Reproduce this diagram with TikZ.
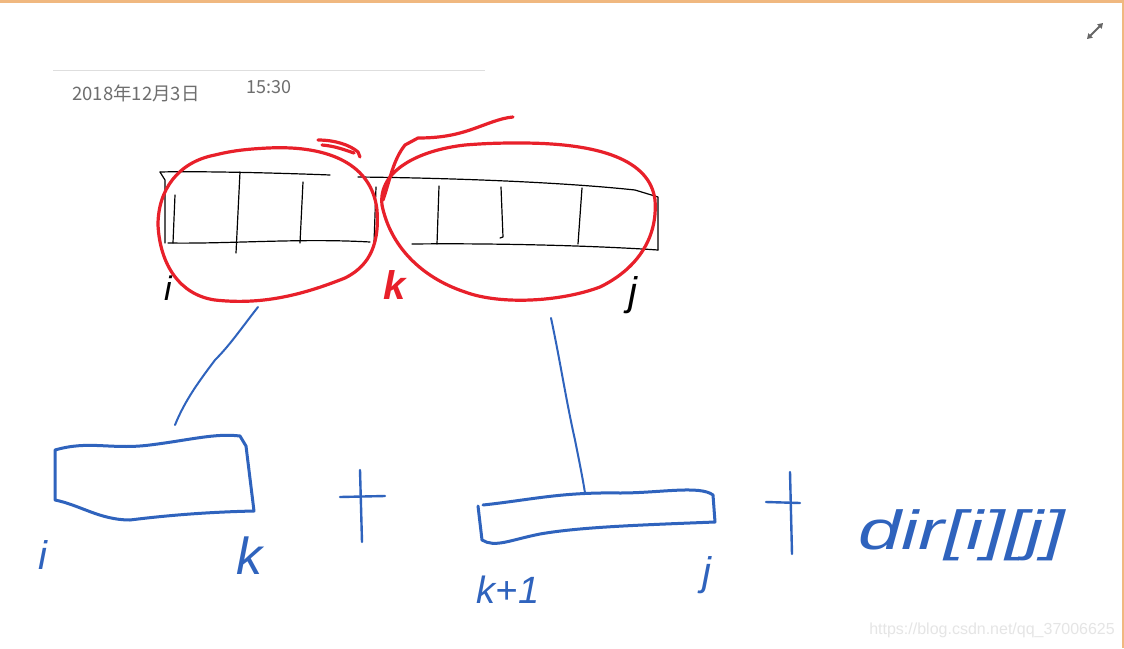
\documentclass[tikz,border=0pt]{standalone}
\usepackage{fontspec}
\setmainfont{Liberation Sans}
\newfontfamily\cjk{Noto Sans CJK SC}
\usetikzlibrary{arrows.meta}
\definecolor{inkred}{HTML}{E8202A}
\definecolor{inkblue}{HTML}{2F63BD}
\definecolor{frame}{HTML}{F0B880}
\definecolor{datecol}{HTML}{6E6E6E}
\tikzset{
  redpen/.style={draw=inkred, line width=3.2pt, line cap=round, line join=round},
  bluepen/.style={draw=inkblue, line width=3pt, line cap=round, line join=round},
  blackpen/.style={draw=black, line width=1.2pt, line cap=round, line join=round},
  hand/.style={font=\fontsize{34}{34}\selectfont\itshape, inner sep=0pt},
}
\begin{document}
\begin{tikzpicture}[x=1pt,y=-1pt]
\useasboundingbox (0,0) rectangle (1124,648);
\fill[white] (0,0) rectangle (1124,648);
% frame
\fill[frame] (0,0) rectangle (1124,2.5);
\fill[frame] (1121.5,0) rectangle (1124,648);
% expand icon
\draw[gray!80!black, line width=2pt, {Triangle[length=5pt,width=6pt]}-{Triangle[length=5pt,width=6pt]}] (1087,39) -- (1103,23);
% header
\draw[black!13, line width=1.2pt] (53,70.5) -- (485,70.5);
\node[anchor=west, text=datecol, font=\cjk\fontsize{18.5}{18.5}\selectfont, inner sep=0pt] (date) at (72,93) {2018年12月3日};
\node[anchor=west, text=datecol, font=\cjk\fontsize{18}{18}\selectfont, inner sep=0pt] (time) at (246,87) {15:30};
% black array
\draw[blackpen] (160,172) .. controls (200,171) and (280,173) .. (330,175);
\draw[blackpen] (358,177) .. controls (450,178) and (560,182) .. (635,190) -- (658,197) -- (658,250);
\draw[blackpen] (160,172) -- (165,180) -- (165,243);
\draw[blackpen] (168,243) .. controls (230,244) and (300,238) .. (370,242);
\draw[blackpen] (412,244) .. controls (500,243) and (600,246) .. (658,250);
\draw[blackpen] (175,195) -- (173,243);
\draw[blackpen] (240,172) -- (236,253);
\draw[blackpen] (303,182) -- (300,243);
\draw[blackpen] (376,187) -- (374,243);
\draw[blackpen] (439,186) -- (437,244);
\draw[blackpen] (501,187) -- (503,237) -- (500,238);
\draw[blackpen] (582,188) -- (578,244);
% red loops
\draw[redpen] (268,148) .. controls (330,145) and (372,165) .. (377,210)
  .. controls (380,250) and (365,268) .. (345,278)
  .. controls (300,296) and (260,305) .. (215,300)
  .. controls (180,295) and (160,265) .. (158,225)
  .. controls (158,190) and (178,162) .. (215,155)
  .. controls (235,150) and (250,149) .. (268,148);
\draw[redpen] (318,140) .. controls (335,140) and (350,145) .. (358,152) -- (360,157);
\draw[redpen] (322,145) .. controls (335,146) and (345,150) .. (354,153);
\draw[redpen] (520,143) .. controls (600,143) and (650,160) .. (655,200)
  .. controls (658,240) and (635,270) .. (600,287)
  .. controls (560,302) and (500,305) .. (465,292)
  .. controls (420,277) and (390,245) .. (382,205)
  .. controls (378,170) and (420,150) .. (465,145)
  .. controls (490,143) and (505,143) .. (520,143);
\draw[redpen] (383,200) .. controls (390,180) and (393,160) .. (405,145)
  -- (418,138) .. controls (440,138) and (455,135) .. (470,130)
  .. controls (485,125) and (500,118) .. (513,117);
% black labels under array
\node[hand, text=black] (li) at (168,288) {i};
\node[hand, text=inkred, font=\fontsize{40}{40}\selectfont\bfseries\itshape] (lk) at (395,285) {k};
\node[hand, text=black, font=\fontsize{40}{40}\selectfont\itshape] (lj) at (633,295) {j};
% blue connectors
\coordinate (c1) at (258,307);
\coordinate (c2) at (175,425);
\draw[bluepen, line width=2pt] (c1) .. controls (240,330) and (230,345) .. (215,360)
  .. controls (200,380) and (185,400) .. (c2);
\coordinate (d1) at (551,318);
\coordinate (d2) at (585,493);
\draw[bluepen, line width=2pt] (d1) .. controls (560,360) and (566,400) .. (575,440)
  .. controls (580,465) and (583,480) .. (d2);
% blue box 1
\draw[bluepen] (55,450) .. controls (90,440) and (110,450) .. (150,445)
  .. controls (190,440) and (215,433) .. (240,436)
  -- (246,446) -- (254,511)
  .. controls (210,512) and (170,515) .. (130,520)
  .. controls (100,520) and (80,505) .. (55,500) -- cycle;
% blue box 2
\draw[bluepen] (483,505) .. controls (530,500) and (560,492) .. (620,493)
  .. controls (660,493) and (700,485) .. (713,495)
  -- (715,522) .. controls (640,525) and (580,527) .. (540,534)
  .. controls (510,540) and (495,548) .. (482,540) -- (478,506);
% plus signs
\draw[bluepen, line width=2.4pt] (360,470) -- (362,542);
\draw[bluepen, line width=2.4pt] (340,497) -- (385,496);
\draw[bluepen, line width=2.4pt] (790,472) -- (792,554);
\draw[bluepen, line width=2.4pt] (766,502) -- (800,503);
% blue labels
\node[hand, text=inkblue, font=\fontsize{40}{40}\selectfont\itshape] (bi) at (43,555) {i};
\node[hand, text=inkblue, font=\fontsize{52}{52}\selectfont\itshape] (bk) at (249,556) {k};
\node[hand, text=inkblue, font=\fontsize{38}{38}\selectfont\itshape] (bk1) at (508,590) {k+1};
\node[hand, text=inkblue, font=\fontsize{40}{40}\selectfont\itshape] (bj) at (707,575) {j};
\node[hand, text=inkblue, font=\fontsize{50}{50}\selectfont\itshape] (dir) at (962,535) {\scalebox{1.55}[1.1]{dir[i][j]}};
% watermark
\node[anchor=east, text=black!10, font=\fontsize{16}{16}\selectfont, inner sep=0pt] (wm) at (1115,630) {https://blog.csdn.net/qq\_37006625};
\end{tikzpicture}
\end{document}
